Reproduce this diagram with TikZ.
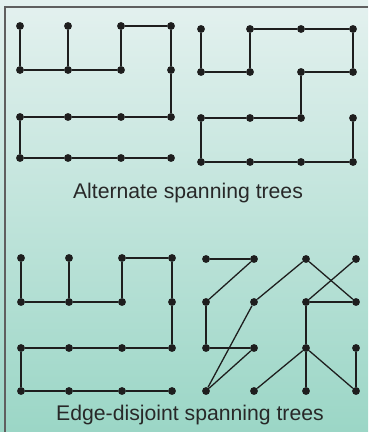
\documentclass[tikz,border=0pt]{standalone}
\usepackage{fontspec}
\setmainfont{Liberation Sans}
\definecolor{paneltop}{RGB}{228,241,239}
\definecolor{panelbot}{RGB}{155,214,198}
\definecolor{frame}{RGB}{95,95,95}
\definecolor{ink}{RGB}{30,30,30}
\definecolor{captext}{RGB}{40,40,40}

\begin{document}
\begin{tikzpicture}[
  x=0.03cm,y=-0.03cm,
  dot/.style={circle,minimum size=0.235cm,inner sep=0pt,fill=ink,draw=none},
  treeedge/.style={ink,line width=1.1pt},
  caption/.style={font=\fontsize{18.1}{21}\selectfont,text=captext,anchor=base,inner sep=0pt}
]
\newcommand{\tlink}[2]{\draw[treeedge] (#1)--(#2);}
\useasboundingbox (0,0) rectangle (368,432);
\shade[top color=paneltop,bottom color=panelbot] (0,0) rectangle (368,432);
\draw[frame,line width=1.2pt] (5,432) -- (5,7) -- (368,7);
% ================= top left: first spanning tree =================
\node[dot] (a11) at (20,26) {};
\node[dot] (a12) at (68,26) {};
\node[dot] (a13) at (121,26) {};
\node[dot] (a14) at (171,26) {};
\node[dot] (a21) at (20,70) {};
\node[dot] (a22) at (68,70) {};
\node[dot] (a23) at (121,70) {};
\node[dot] (a24) at (171,70) {};
\node[dot] (a31) at (20,117) {};
\node[dot] (a32) at (68,117) {};
\node[dot] (a33) at (121,117) {};
\node[dot] (a34) at (171,117) {};
\node[dot] (a41) at (20,158) {};
\node[dot] (a42) at (68,158) {};
\node[dot] (a43) at (121,158) {};
\node[dot] (a44) at (171,158) {};
\tlink{a11}{a21}
\tlink{a12}{a22}
\tlink{a21}{a22}
\tlink{a22}{a23}
\tlink{a23}{a13}
\tlink{a13}{a14}
\tlink{a14}{a24}
\tlink{a24}{a34}
\tlink{a34}{a33}
\tlink{a33}{a32}
\tlink{a32}{a31}
\tlink{a31}{a41}
\tlink{a41}{a42}
\tlink{a42}{a43}
\tlink{a43}{a44}
% ================= top right: alternate spanning tree =================
\node[dot] (b11) at (201,29) {};
\node[dot] (b12) at (250,29) {};
\node[dot] (b13) at (301,29) {};
\node[dot] (b14) at (353,29) {};
\node[dot] (b21) at (201,72) {};
\node[dot] (b22) at (250,72) {};
\node[dot] (b23) at (301,72) {};
\node[dot] (b24) at (353,72) {};
\node[dot] (b31) at (201,118) {};
\node[dot] (b32) at (250,118) {};
\node[dot] (b33) at (301,118) {};
\node[dot] (b34) at (353,118) {};
\node[dot] (b41) at (201,162) {};
\node[dot] (b42) at (250,162) {};
\node[dot] (b43) at (301,162) {};
\node[dot] (b44) at (353,162) {};
\tlink{b11}{b21}
\tlink{b21}{b22}
\tlink{b22}{b12}
\tlink{b12}{b13}
\tlink{b13}{b14}
\tlink{b14}{b24}
\tlink{b24}{b23}
\tlink{b23}{b33}
\tlink{b33}{b32}
\tlink{b32}{b31}
\tlink{b31}{b41}
\tlink{b41}{b42}
\tlink{b42}{b43}
\tlink{b43}{b44}
\tlink{b44}{b34}
\node[caption] (alt) at (188,198.5) {Alternate spanning trees};
% ================= bottom left: first spanning tree again =================
\node[dot] (c11) at (21,258) {};
\node[dot] (c12) at (69,258) {};
\node[dot] (c13) at (122,258) {};
\node[dot] (c14) at (172,258) {};
\node[dot] (c21) at (21,302) {};
\node[dot] (c22) at (69,302) {};
\node[dot] (c23) at (122,302) {};
\node[dot] (c24) at (172,302) {};
\node[dot] (c31) at (21,348) {};
\node[dot] (c32) at (69,348) {};
\node[dot] (c33) at (122,348) {};
\node[dot] (c34) at (172,348) {};
\node[dot] (c41) at (21,391) {};
\node[dot] (c42) at (69,391) {};
\node[dot] (c43) at (122,391) {};
\node[dot] (c44) at (172,391) {};
\tlink{c11}{c21}
\tlink{c12}{c22}
\tlink{c21}{c22}
\tlink{c22}{c23}
\tlink{c23}{c13}
\tlink{c13}{c14}
\tlink{c14}{c24}
\tlink{c24}{c34}
\tlink{c34}{c33}
\tlink{c33}{c32}
\tlink{c32}{c31}
\tlink{c31}{c41}
\tlink{c41}{c42}
\tlink{c42}{c43}
\tlink{c43}{c44}
% ================= bottom right: edge-disjoint spanning tree =================
\node[dot] (d11) at (206,259) {};
\node[dot] (d12) at (254,259) {};
\node[dot] (d13) at (306,259) {};
\node[dot] (d14) at (356,259) {};
\node[dot] (d21) at (206,302) {};
\node[dot] (d22) at (254,302) {};
\node[dot] (d23) at (306,302) {};
\node[dot] (d24) at (356,302) {};
\node[dot] (d31) at (206,348) {};
\node[dot] (d32) at (254,348) {};
\node[dot] (d33) at (306,348) {};
\node[dot] (d34) at (356,348) {};
\node[dot] (d41) at (206,391) {};
\node[dot] (d42) at (254,391) {};
\node[dot] (d43) at (306,391) {};
\node[dot] (d44) at (356,391) {};
\tlink{d11}{d12}
\tlink{d12}{d21}
\tlink{d21}{d31}
\tlink{d31}{d32}
\tlink{d32}{d41}
\tlink{d41}{d22}
\tlink{d22}{d13}
\tlink{d13}{d24}
\tlink{d24}{d23}
\tlink{d23}{d14}
\tlink{d23}{d33}
\tlink{d33}{d42}
\tlink{d33}{d43}
\tlink{d33}{d44}
\tlink{d44}{d34}
\node[caption] (edj) at (190,420) {Edge-disjoint spanning trees};
\end{tikzpicture}
\end{document}
